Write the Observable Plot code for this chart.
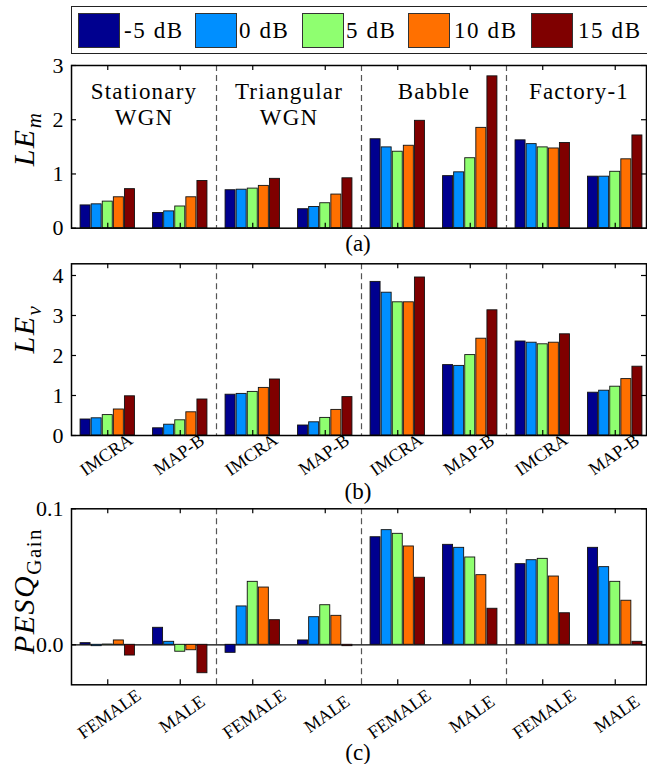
<!DOCTYPE html>
<html>
<head>
<meta charset="utf-8">
<script src="https://cdn.jsdelivr.net/npm/d3@7"></script>
<script src="https://cdn.jsdelivr.net/npm/@observablehq/plot@0.6"></script>
<style>
  html, body { margin: 0; padding: 0; background: white; }
  #root { position: relative; width: 647px; height: 764px; overflow: hidden; font-family: "Liberation Serif", serif; color: black; }
  .abs { position: absolute; }
  .legend { position: absolute; left: 71px; top: 6px; width: 620px; height: 48px; border: 1.5px solid #222; box-sizing: border-box; }
  .sw { position: absolute; top: 13px; width: 42px; height: 35px; border: 1px solid #333; box-sizing: border-box; }
  .lt { position: absolute; top: 19px; font-family: "Liberation Serif", serif; font-size: 23px; line-height: 23px; letter-spacing: 1.6px; white-space: nowrap; }
  .ytitle { position: absolute; transform: translate(-50%, -50%) rotate(-90deg); white-space: nowrap; font-family: "Liberation Serif", serif; font-size: 30px; line-height: 30px; letter-spacing: 1.5px; }
  .ytitle sub { font-size: 21px; vertical-align: -7px; line-height: 0; }
  .plab { position: absolute; font-family: "Liberation Serif", serif; font-size: 23px; line-height: 23px; transform: translate(-50%, -50%); white-space: nowrap; }
</style>
</head>
<body>
<div id="root"></div>
<script>
// ---------- data ----------
const snrLabels = ["-5 dB", "0 dB", "5 dB", "10 dB", "15 dB"];
const snrColors = ["#00008f", "#008fff", "#8fff70", "#ff7000", "#7f0000"];
const noiseTypes = ["Stationary\nWGN", "Triangular\nWGN", "Babble", "Factory-1"];
const methodLabels = ["IMCRA", "MAP-B", "IMCRA", "MAP-B", "IMCRA", "MAP-B", "IMCRA", "MAP-B"];
const genderLabels = ["FEMALE", "MALE", "FEMALE", "MALE", "FEMALE", "MALE", "FEMALE", "MALE"];
const yTicksA = [0, 1, 2, 3];
const yTicksB = [0, 1, 2, 3, 4];
const yTicksC = [0, 0.1];

// LE_m, one row per group (noise type x method), 5 SNR values
const leM = [
  [0.42, 0.44, 0.49, 0.57, 0.72],
  [0.28, 0.31, 0.40, 0.57, 0.87],
  [0.70, 0.71, 0.73, 0.78, 0.91],
  [0.35, 0.39, 0.46, 0.62, 0.92],
  [1.64, 1.49, 1.41, 1.52, 1.98],
  [0.96, 1.03, 1.29, 1.85, 2.80],
  [1.62, 1.55, 1.49, 1.47, 1.57],
  [0.95, 0.95, 1.04, 1.27, 1.71]
];
// LE_v
const leV = [
  [0.40, 0.43, 0.51, 0.65, 0.98],
  [0.18, 0.27, 0.38, 0.58, 0.90],
  [1.02, 1.04, 1.09, 1.19, 1.40],
  [0.25, 0.33, 0.44, 0.64, 0.96],
  [3.84, 3.57, 3.33, 3.33, 3.95],
  [1.76, 1.74, 2.01, 2.42, 3.13],
  [2.35, 2.32, 2.28, 2.32, 2.53],
  [1.07, 1.12, 1.22, 1.41, 1.72]
];
// PESQ gain (groups: noise type x gender)
const pesqGain = [
  [0.0012, -0.0010, 0.0002, 0.0032, -0.0079],
  [0.0125, 0.0022, -0.0051, -0.0040, -0.0209],
  [-0.0059, 0.0282, 0.0463, 0.0421, 0.0181],
  [0.0032, 0.0203, 0.0291, 0.0213, -0.0010],
  [0.0791, 0.0843, 0.0816, 0.0723, 0.0493],
  [0.0735, 0.0713, 0.0642, 0.0512, 0.0265],
  [0.0593, 0.0622, 0.0632, 0.0502, 0.0232],
  [0.0713, 0.0571, 0.0463, 0.0324, 0.0022]
];

// ---------- helpers ----------
const FONT = '"Liberation Serif", serif';
const nGroups = 8;
const groupIdx = d3.range(nGroups);
const sepPos = [1, 3, 5].map(i => i + 0.5);
const pitch = 0.153, halfW = 0.069;
const W = 647, ML = 71, MR = 1;
const plotW = W - ML - MR;
const xDomain = [-0.5, -0.5 + plotW / 72.5];

function rowsOf(values) {
  const rows = [];
  values.forEach((grp, g) => grp.forEach((v, s) => rows.push({g, s, v})));
  return rows;
}

function panel({values, yDomain, yTicks, tickFormat, marginTop, plotH, marginBottom, extra = [], zeroLine = false}) {
  const rows = rowsOf(values);
  return Plot.plot({
    width: W,
    height: marginTop + plotH + marginBottom,
    marginLeft: ML, marginRight: MR, marginTop, marginBottom,
    style: {fontFamily: FONT, fontSize: "22px", background: "transparent", overflow: "visible"},
    x: {type: "linear", domain: xDomain, axis: null},
    y: {domain: yDomain, ticks: yTicks, tickSize: 0, tickPadding: 8, tickFormat, label: null},
    marks: [
      Plot.ruleX(sepPos, {x: d => d, stroke: "#555", strokeDasharray: "6,4", strokeWidth: 1.2}),
      ...(zeroLine ? [Plot.ruleY([0], {stroke: "black", strokeWidth: 1.3})] : []),
      Plot.rect(rows, {
        x1: d => d.g + (d.s - 2) * pitch - halfW,
        x2: d => d.g + (d.s - 2) * pitch + halfW,
        y1: () => 0,
        y2: d => d.v,
        fill: d => snrColors[d.s],
        stroke: "#111", strokeWidth: 0.9
      }),
      Plot.tickX(groupIdx, {x: d => d, insetBottom: plotH - 5, stroke: "black", strokeWidth: 1.2}),
      Plot.tickX(groupIdx, {x: d => d, insetTop: plotH - 5, stroke: "black", strokeWidth: 1.2}),
      Plot.tickY(yTicks, {y: d => d, insetRight: plotW - 5, stroke: "black", strokeWidth: 1.2}),
      Plot.tickY(yTicks, {y: d => d, insetLeft: plotW - 5, stroke: "black", strokeWidth: 1.2}),
      Plot.frame({stroke: "black", strokeWidth: 1.5}),
      ...extra
    ]
  });
}

const root = document.getElementById("root");
function place(node, top) {
  const d = document.createElement("div");
  d.className = "abs";
  d.style.left = "0px";
  d.style.top = top + "px";
  d.appendChild(node);
  root.appendChild(d);
}

// Panel (a)
const hA = 162.7;
const svgA = panel({
  values: leM, yDomain: [0, 3], yTicks: yTicksA, tickFormat: d3.format("d"),
  marginTop: 20, plotH: hA, marginBottom: 10,
  extra: [
    Plot.text(noiseTypes, {
      x: (d, i) => i * 2 + 0.5, text: d => d,
      frameAnchor: "top", lineAnchor: "top", dy: 16,
      fontSize: 23, lineHeight: 1.1, fontFamily: FONT,
      className: "grouplab"
    })
  ]
});
d3.select(svgA).selectAll(".grouplab text").attr("letter-spacing", "1.2px");
place(svgA, 45);

// Panel (b)
const hB = 171.7;
place(panel({
  values: leV, yDomain: [0, 171.7 / 40], yTicks: yTicksB, tickFormat: d3.format("d"),
  marginTop: 13.3, plotH: hB, marginBottom: 60,
  extra: [
    Plot.text(methodLabels, {
      x: (d, i) => i, text: d => d, frameAnchor: "bottom",
      dy: 24, dx: 2, rotate: -35, fontSize: 18, fontFamily: FONT
    })
  ]
}), 250);

// Panel (c)
const hC = 176;
place(panel({
  values: pesqGain, yDomain: [-40 / 1360, 0.1], yTicks: yTicksC, tickFormat: d3.format(".1f"),
  marginTop: 13.3, plotH: hC, marginBottom: 60, zeroLine: true,
  extra: [
    Plot.text(genderLabels, {
      x: (d, i) => i, text: d => d, frameAnchor: "bottom",
      dy: 34, dx: 5, rotate: -35, fontSize: 18, fontFamily: FONT
    })
  ]
}), 495);

// Legend
const legend = document.createElement("div");
legend.className = "legend";
root.appendChild(legend);
const swX = [78, 195, 302, 408, 531];
const txX = [124, 239, 346, 454, 578];
snrLabels.forEach((lab, i) => {
  const sw = document.createElement("div");
  sw.className = "sw";
  sw.style.left = swX[i] + "px";
  sw.style.background = snrColors[i];
  root.appendChild(sw);
  const t = document.createElement("div");
  t.className = "lt";
  t.style.left = txX[i] + "px";
  t.textContent = lab;
  root.appendChild(t);
});

// Y titles
function ytitle(html, x, y) {
  const d = document.createElement("div");
  d.className = "ytitle";
  d.style.left = x + "px";
  d.style.top = y + "px";
  d.innerHTML = html;
  root.appendChild(d);
}
ytitle("<i>LE</i><sub><i>m</i></sub>", 24, 139);
ytitle("<i>LE</i><sub><i>v</i></sub>", 24, 329);
ytitle("<i>PESQ</i><sub>Gain</sub>", 24, 591);

// Panel labels
[["(a)", 243], ["(b)", 491], ["(c)", 752]].forEach(([t, y]) => {
  const d = document.createElement("div");
  d.className = "plab";
  d.style.left = "358px";
  d.style.top = y + "px";
  d.textContent = t;
  root.appendChild(d);
});
</script>
</body>
</html>
